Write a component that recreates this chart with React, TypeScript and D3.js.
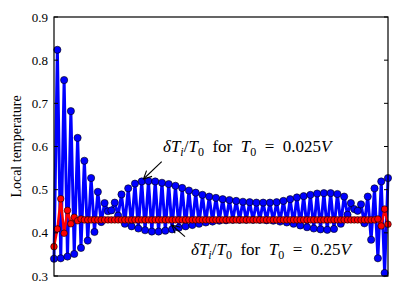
import React from "react";
import * as d3 from "d3";

const yTicks = [0.3, 0.4, 0.5, 0.6, 0.7, 0.8, 0.9];

// Blue series: T0 = 0.025V (100 sites)
const blueValues = [
  0.340, 0.824, 0.341, 0.754, 0.345, 0.682, 0.351, 0.620, 0.365, 0.567,
  0.382, 0.527, 0.402, 0.495, 0.425, 0.469, 0.450, 0.452, 0.470, 0.440,
  0.489, 0.421, 0.503, 0.415, 0.514, 0.410, 0.519, 0.406, 0.520, 0.403,
  0.519, 0.403, 0.516, 0.405, 0.513, 0.408, 0.509, 0.412, 0.504, 0.415,
  0.498, 0.418, 0.493, 0.421, 0.488, 0.424, 0.484, 0.426, 0.481, 0.428,
  0.478, 0.429, 0.476, 0.430, 0.474, 0.430, 0.472, 0.430, 0.471, 0.430,
  0.470, 0.430, 0.470, 0.429, 0.470, 0.428, 0.471, 0.426, 0.474, 0.424,
  0.478, 0.421, 0.482, 0.417, 0.485, 0.413, 0.488, 0.410, 0.491, 0.408,
  0.492, 0.407, 0.492, 0.409, 0.490, 0.421, 0.484, 0.442, 0.469, 0.455,
  0.451, 0.466, 0.422, 0.484, 0.384, 0.503, 0.341, 0.519, 0.307, 0.527,
];

// Red series: T0 = 0.25V (100 sites)
const redValues = [
  0.368, 0.409, 0.479, 0.399, 0.452, 0.421, 0.436, 0.428, 0.432, 0.430,
  0.430, 0.430, 0.430, 0.430, 0.430, 0.430, 0.430, 0.430, 0.430, 0.430,
  0.430, 0.430, 0.430, 0.430, 0.430, 0.430, 0.430, 0.430, 0.430, 0.430,
  0.430, 0.430, 0.430, 0.430, 0.430, 0.430, 0.430, 0.430, 0.430, 0.430,
  0.430, 0.430, 0.430, 0.430, 0.430, 0.430, 0.430, 0.430, 0.430, 0.430,
  0.430, 0.430, 0.430, 0.430, 0.430, 0.430, 0.430, 0.430, 0.430, 0.430,
  0.430, 0.430, 0.430, 0.430, 0.430, 0.430, 0.430, 0.430, 0.430, 0.430,
  0.430, 0.430, 0.430, 0.430, 0.430, 0.430, 0.430, 0.430, 0.430, 0.430,
  0.430, 0.430, 0.430, 0.430, 0.430, 0.430, 0.430, 0.430, 0.430, 0.430,
  0.430, 0.430, 0.430, 0.430, 0.430, 0.430, 0.432, 0.416, 0.455, 0.420,
];

const yLabel = "Local temperature";

const W = 399, H = 293;
const left = 54, right = 388, top = 17, bottom = 276;
const FONT = "'Liberation Serif', 'DejaVu Serif', serif";

function Arrow({ x1, y1, x2, y2 }: { x1: number; y1: number; x2: number; y2: number }) {
  const ang = Math.atan2(y2 - y1, x2 - x1);
  const hl = 8, hw = 4;
  const bx = x2 - hl * Math.cos(ang), by = y2 - hl * Math.sin(ang);
  const px = -Math.sin(ang) * hw, py = Math.cos(ang) * hw;
  return (
    <g stroke="#000" strokeWidth={1.1} fill="none">
      <line x1={x1} y1={y1} x2={x2} y2={y2} />
      <polyline points={`${bx + px},${by + py} ${x2},${y2} ${bx - px},${by - py}`} />
    </g>
  );
}

function Label({ x, y, value }: { x: number; y: number; value: string }) {
  return (
    <text x={x} y={y} fontFamily={FONT} fontSize={17} fill="#000">
      <tspan fontStyle="italic">δT</tspan>
      <tspan fontStyle="italic" fontSize={12} dy={3.5}>i</tspan>
      <tspan dy={-3.5}>/</tspan>
      <tspan fontStyle="italic">T</tspan>
      <tspan fontSize={12} dy={3.5}>0</tspan>
      <tspan dy={-3.5}>{"\u2002for\u2002"}</tspan>
      <tspan fontStyle="italic">T</tspan>
      <tspan fontSize={12} dy={3.5}>0</tspan>
      <tspan dy={-3.5}>{"\u2002=\u2002" + value}</tspan>
      <tspan fontStyle="italic">V</tspan>
    </text>
  );
}

export default function App() {
  const x = d3.scaleLinear().domain([0, blueValues.length - 1]).range([left, right]);
  const y = d3.scaleLinear().domain([0.3, 0.9]).range([bottom, top]);
  const line = d3.line<number>().x((_, i) => x(i)).y((d) => y(d));

  return (
    <svg width={W} height={H} style={{ position: "absolute", left: 0, top: 0, background: "#fff" }}>
      <rect x={0} y={0} width={W} height={H} fill="#fff" />
      {/* blue series */}
      <path d={line(blueValues) || ""} fill="none" stroke="#0000ff" strokeWidth={3} strokeLinejoin="round" />
      {blueValues.map((v, i) => (
        <circle key={"b" + i} cx={x(i)} cy={y(v)} r={3.6} fill="#0000ff" stroke="#000" strokeWidth={0.6} />
      ))}
      {/* red series */}
      <path d={line(redValues) || ""} fill="none" stroke="#ff0000" strokeWidth={2.5} strokeLinejoin="round" />
      {redValues.map((v, i) => (
        <circle key={"r" + i} cx={x(i)} cy={y(v)} r={3.3} fill="#ff0000" stroke="#000" strokeWidth={0.6} />
      ))}
      {/* frame */}
      <rect x={left} y={top} width={right - left} height={bottom - top} fill="none" stroke="#000" strokeWidth={1.2} />
      {yTicks.map((t) => (
        <g key={t}>
          <line x1={left} x2={left + 4} y1={y(t)} y2={y(t)} stroke="#000" strokeWidth={1} />
          <line x1={right - 4} x2={right} y1={y(t)} y2={y(t)} stroke="#000" strokeWidth={1} />
          <text x={left - 6} y={y(t)} dy="0.35em" textAnchor="end" fontFamily={FONT} fontSize={13} fill="#000">
            {t.toFixed(1)}
          </text>
        </g>
      ))}
      <text
        transform={`translate(16,${(top + bottom) / 2}) rotate(-90)`}
        textAnchor="middle"
        dy="0.35em"
        fontFamily={FONT}
        fontSize={14}
        fill="#000"
      >
        {yLabel}
      </text>
      <Label x={163} y={152} value="0.025" />
      <Arrow x1={161.7} y1={161.7} x2={143.5} y2={179} />
      <Label x={191} y={255} value="0.25" />
      <Arrow x1={185} y1={236.7} x2={171.7} y2={225} />
    </svg>
  );
}
